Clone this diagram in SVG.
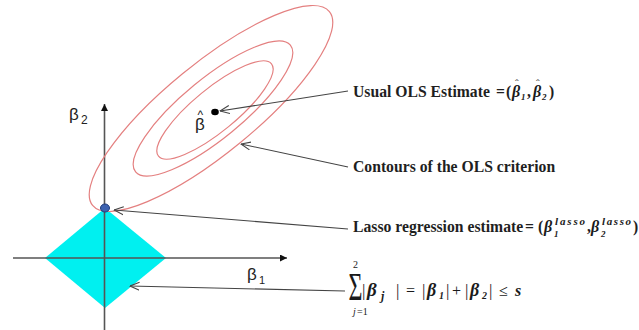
<svg xmlns="http://www.w3.org/2000/svg" width="639" height="330" viewBox="0 0 639 330">
<style>
.lbl{font-family:"Liberation Serif","Times New Roman",serif;font-size:15.7px;font-weight:bold;fill:#1f1f1f}
.mb{font-family:"Liberation Serif","Times New Roman",serif;font-style:italic;font-weight:bold;fill:#1a1a1a}
.mr{font-family:"Liberation Serif","Times New Roman",serif;fill:#1a1a1a}
.ax{font-family:"Liberation Sans",Arial,sans-serif;fill:#222}
.ell{fill:none;stroke:#e48080;stroke-width:1.2}
.lead{fill:none;stroke:#444;stroke-width:1.1}
.axis{fill:none;stroke:#555;stroke-width:1.6}
</style>
<defs>
<marker id="open" viewBox="0 0 10 10" refX="9.5" refY="5" markerWidth="10" markerHeight="10" markerUnits="userSpaceOnUse" orient="auto">
<path d="M0,1 L9.5,5 L0,9" fill="none" stroke="#444" stroke-width="1.1"/>
</marker>
<marker id="solid" viewBox="0 0 10 10" refX="10" refY="5" markerWidth="9" markerHeight="7" markerUnits="userSpaceOnUse" orient="auto">
<path d="M0,0 L10,5 L0,10 Z" fill="#111"/>
</marker>
</defs>

<g id="constraint-region">
<polygon points="105,208 166,258 105,308 45,258" fill="#00f0f0"/>
</g>

<g id="axes">
<line class="axis" x1="13" y1="258" x2="287" y2="258" marker-end="url(#solid)"/>
<line class="axis" x1="104.5" y1="330" x2="104.5" y2="104" marker-end="url(#solid)"/>
<text class="ax" x="69" y="120" font-size="17">β</text>
<text class="ax" x="81" y="124" font-size="12">2</text>
<text class="ax" x="247" y="280" font-size="17">β</text>
<text class="ax" x="259" y="284" font-size="11">1</text>
</g>

<g id="ols-contours">
<ellipse class="ell" cx="211" cy="108.5" rx="153" ry="45" transform="rotate(-39.3 211 108.5)"/>
<ellipse class="ell" cx="213" cy="108.5" rx="100" ry="30" transform="rotate(-39.3 213 108.5)"/>
<ellipse class="ell" cx="215" cy="110" rx="73" ry="21.5" transform="rotate(-39.3 215 110)"/>
</g>

<g id="ols-estimate">
<ellipse cx="215" cy="112" rx="3.8" ry="3.2" fill="#000"/>
<text class="ax" x="197.5" y="119" font-size="12">^</text>
<text class="ax" x="195" y="130" font-size="17">β</text>
</g>

<g id="lasso-estimate">
<ellipse cx="105" cy="208" rx="4.5" ry="4" fill="#3d62b0" stroke="#1f3a7a" stroke-width="1"/>
</g>

<g id="connectors">
<line class="lead" x1="348" y1="91" x2="220" y2="111" marker-end="url(#open)"/>
<line class="lead" x1="348" y1="167" x2="241" y2="144" marker-end="url(#open)"/>
<line class="lead" x1="348" y1="229" x2="114" y2="210" marker-end="url(#open)"/>
<line class="lead" x1="345" y1="291" x2="130" y2="286" marker-end="url(#open)"/>
</g>

<g id="label-ols">
<text class="lbl" x="353" y="97">Usual OLS Estimate</text>
<text class="lbl" x="496" y="97">=</text>
<text class="lbl" x="506" y="97">(</text>
<text class="mb" x="512" y="97" font-size="16">β</text>
<text class="mr" x="515" y="87" font-size="11">ˆ</text>
<text class="mb" x="521" y="100" font-size="9">1</text>
<text class="lbl" x="527" y="97">,</text>
<text class="mb" x="533" y="97" font-size="16">β</text>
<text class="mr" x="536" y="87" font-size="11">ˆ</text>
<text class="mb" x="542" y="100" font-size="9">2</text>
<text class="lbl" x="549" y="97">)</text>
</g>

<g id="label-contours">
<text class="lbl" x="353" y="172">Contours of the OLS criterion</text>
</g>

<g id="label-lasso">
<text class="lbl" x="353" y="232">Lasso regression estimate</text>
<text class="lbl" x="525" y="232">=</text>
<text class="lbl" x="538" y="232">(</text>
<text class="mb" x="544" y="232" font-size="16">β</text>
<text class="mb" x="555" y="225" font-size="11" textLength="30" lengthAdjust="spacing">lasso</text>
<text class="mb" x="554" y="237" font-size="9">1</text>
<text class="lbl" x="587" y="232">,</text>
<text class="mb" x="591" y="232" font-size="16">β</text>
<text class="mb" x="602" y="225" font-size="11" textLength="29" lengthAdjust="spacing">lasso</text>
<text class="mb" x="601" y="237" font-size="9">2</text>
<text class="lbl" x="633" y="232">)</text>
</g>

<g id="label-constraint">
<text class="mr" x="353" y="268" font-size="10">2</text>
<text class="mr" transform="translate(348.5 300) scale(0.6 1)" font-size="40">Σ</text>
<text class="mr" x="353" y="315" font-size="10" font-style="italic">j</text>
<text class="mr" x="357" y="315" font-size="10">=1</text>
<text class="mr" x="362" y="296" font-size="17">|</text>
<text class="mb" x="367" y="296" font-size="19">β</text>
<text class="mb" x="381" y="300" font-size="12">j</text>
<text class="mr" x="396" y="296" font-size="17">|</text>
<text class="mr" x="406" y="296" font-size="16">=</text>
<text class="mr" x="422" y="296" font-size="17">|</text>
<text class="mb" x="427" y="296" font-size="18">β</text>
<text class="mb" x="439" y="299" font-size="10">1</text>
<text class="mr" x="446" y="296" font-size="17">|</text>
<text class="mr" x="452" y="296" font-size="16">+</text>
<text class="mr" x="465" y="296" font-size="17">|</text>
<text class="mb" x="470" y="296" font-size="18">β</text>
<text class="mb" x="482" y="299" font-size="10">2</text>
<text class="mr" x="489" y="296" font-size="17">|</text>
<text class="mr" x="499" y="296" font-size="16">≤</text>
<text class="mb" x="515" y="296" font-size="16">s</text>
</g>
</svg>
